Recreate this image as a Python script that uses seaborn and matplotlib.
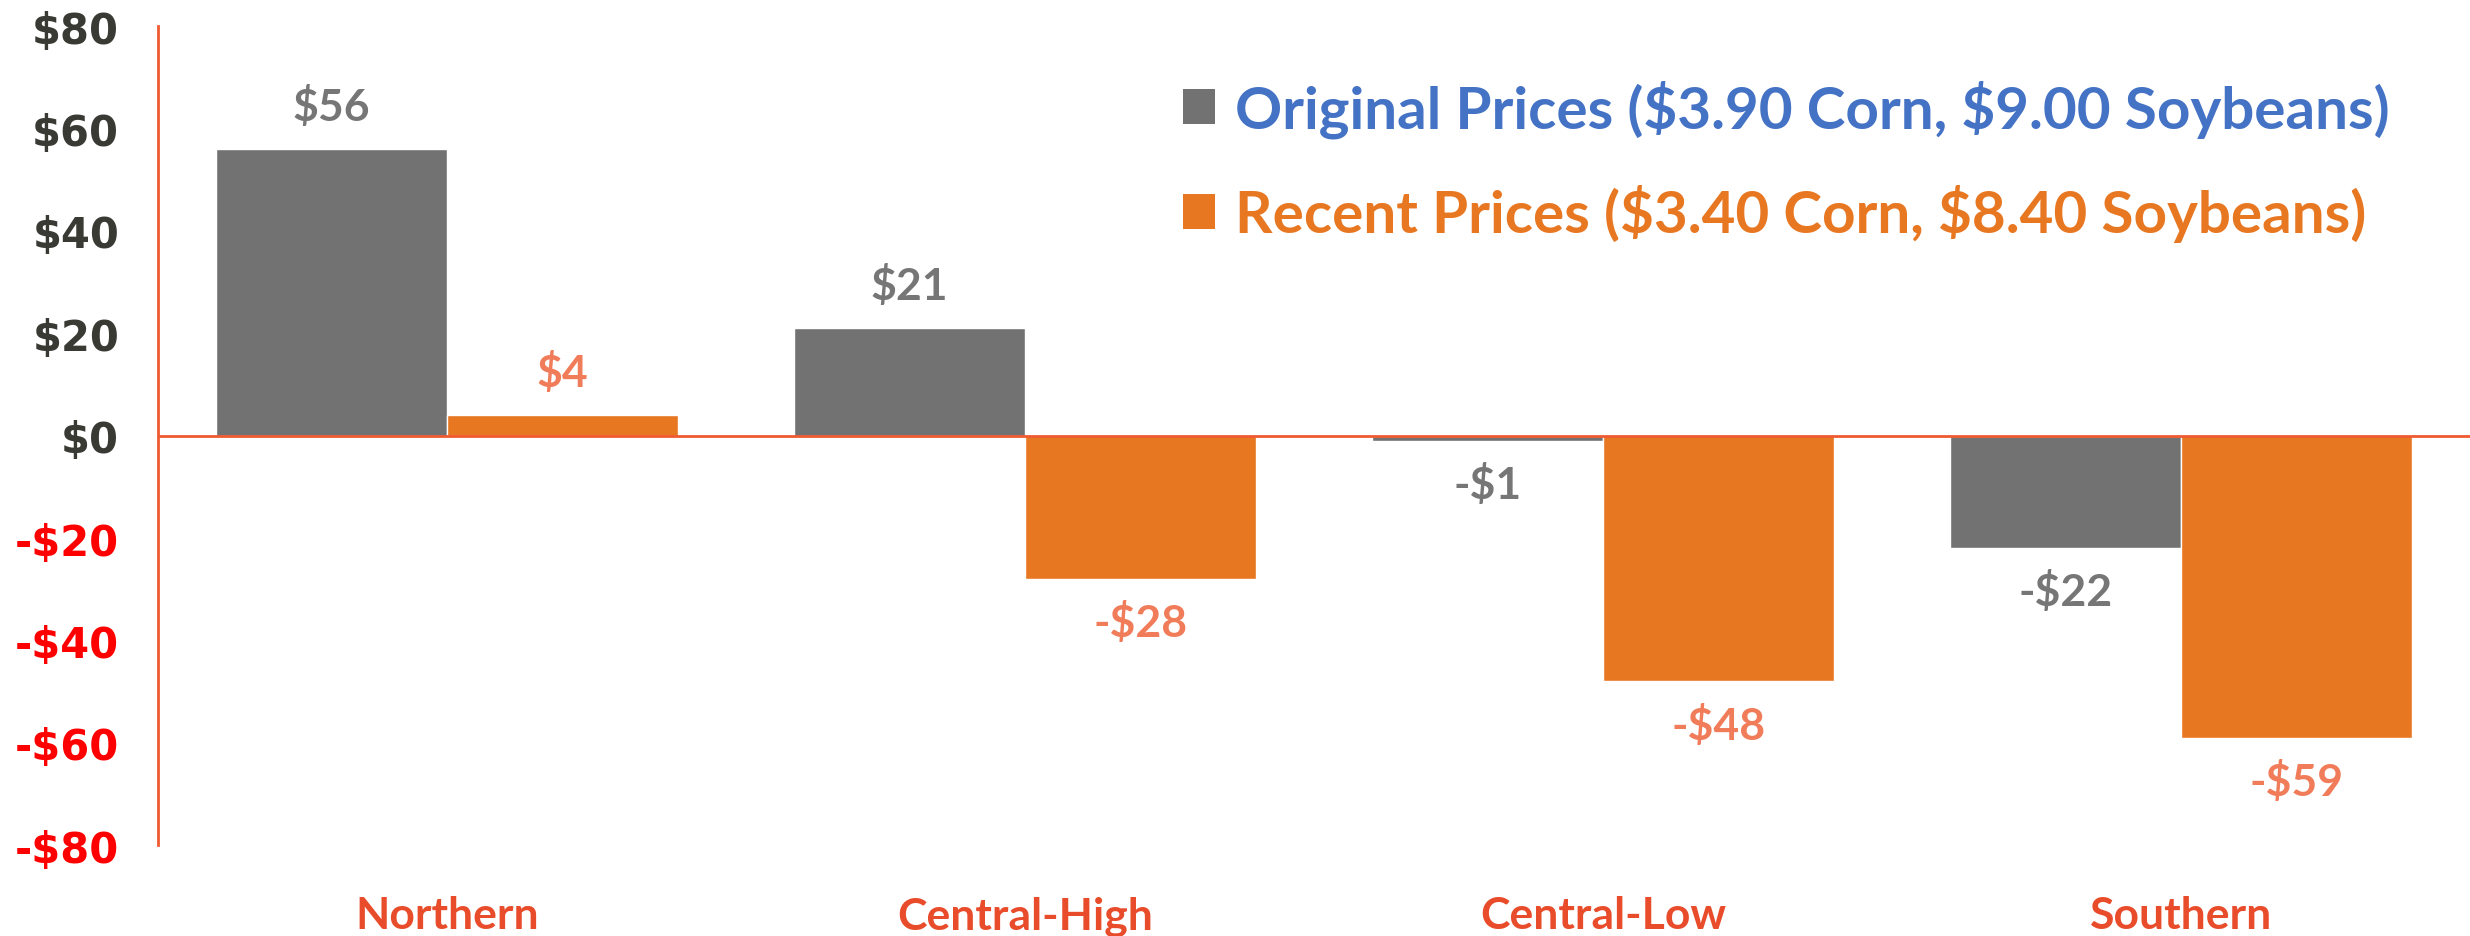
import numpy as np
import pandas as pd
import matplotlib.pyplot as plt
import seaborn as sns
from matplotlib.patches import Patch

regions = ["Northern", "Central-High", "Central-Low", "Southern"]
original = [56, 21, -1, -22]
recent = [4, -28, -48, -59]
series = [r"Original Prices (\$3.90 Corn, \$9.00 Soybeans)",
          r"Recent Prices (\$3.40 Corn, \$8.40 Soybeans)"]
yticks = [-80, -60, -40, -20, 0, 20, 40, 60, 80]

bar_colors = ["#717271", "#e87722"]
label_colors = ["#767676", "#f07c5a"]
legend_text_colors = ["#4472c4", "#e87722"]
axis_red = "#f05a30"

df = pd.DataFrame({
    "region": regions * 2,
    "value": original + recent,
    "series": [series[0]] * 4 + [series[1]] * 4,
})

sns.set_style("white")
plt.rcParams['font.family'] = ['Lato', 'DejaVu Sans']

fig = plt.figure(figsize=(24.7, 9.37), dpi=100)
ax = fig.add_axes([0.064, 0.097, 0.936, 0.874])

sns.barplot(data=df, x="region", y="value", hue="series", palette=bar_colors,
            width=0.8, saturation=1, ax=ax, legend=False)

ax.set_xlim(-0.5, 3.5)
ax.set_ylim(-80, 80)
ax.set_yticks(yticks)
ax.set_yticklabels([f"-\\${-v}" if v < 0 else f"\\${v}" for v in yticks],
                   fontsize=30, fontweight="bold", family="DejaVu Sans")
for lbl, v in zip(ax.get_yticklabels(), yticks):
    lbl.set_color("#ff0000" if v < 0 else "#3a3a35")
ax.tick_params(axis="both", length=0)
ax.tick_params(axis="y", pad=28)
ax.set_xticks(range(len(regions)))
ax.set_xticklabels(regions, fontsize=32, fontweight="bold", color="#e84c2a")
ax.tick_params(axis="x", pad=36)
ax.set_xlabel("")
ax.set_ylabel("")

for s in ["top", "right", "bottom"]:
    ax.spines[s].set_visible(False)
ax.spines["left"].set_color(axis_red)
ax.spines["left"].set_linewidth(2)
ax.axhline(0, color=axis_red, lw=2, zorder=3)

for cont, col in zip(ax.containers, label_colors):
    labels = [f"-\\${-v:.0f}" if v < 0 else f"\\${v:.0f}" for v in cont.datavalues]
    ax.bar_label(cont, labels=labels, padding=16, fontsize=32,
                 fontweight="bold", color=col)

handles = [Patch(facecolor=c, edgecolor="none") for c in bar_colors]
leg = ax.legend(handles, series, loc="upper right", bbox_to_anchor=(0.983, 0.985),
                frameon=False, fontsize=42, handlelength=0.55, handleheight=0.55,
                handletextpad=0.35, labelspacing=0.8, borderaxespad=0.3)
for t, c in zip(leg.get_texts(), legend_text_colors):
    t.set_color(c)
    t.set_fontweight("bold")

fig.savefig("out.png", dpi=100)
